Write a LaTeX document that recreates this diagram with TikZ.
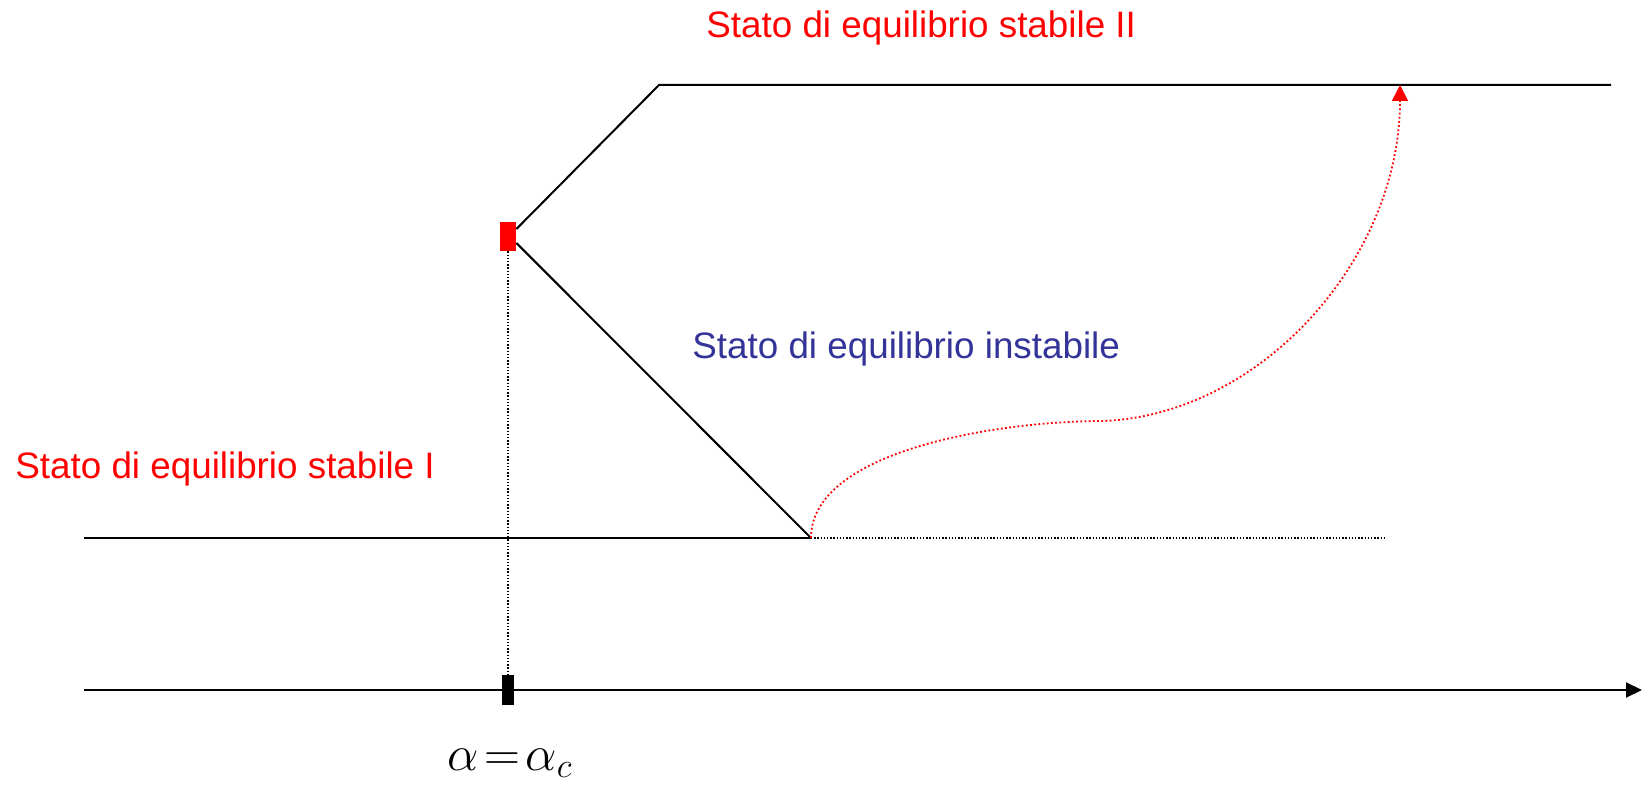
\documentclass[tikz,border=0pt]{standalone}
\usepackage{fontspec}
\setmainfont{Liberation Sans}
\usetikzlibrary{arrows.meta}
\definecolor{myblue}{RGB}{51,51,153}
\begin{document}
\begin{tikzpicture}[x=0.5pt,y=-0.5pt,
  solidline/.style={line width=1pt,black},
  dotline/.style={line width=0.7pt,black,dash pattern=on 0.7pt off 0.9pt},
  reddots/.style={line width=0.9pt,red,dash pattern=on 0.9pt off 1.2pt},
  lbl/.style={anchor=base west,inner sep=0pt,font=\fontsize{18.4}{22}\selectfont},
  marker/.style={rectangle,inner sep=0pt,draw=none}]
\useasboundingbox (0,0) rectangle (1648,786);
% nodes
\node[marker,fill=red,minimum width=8pt,minimum height=14.5pt] (bif) at (508,236.5) {};
\node[marker,fill=black,minimum width=6pt,minimum height=15pt] (mark) at (508,690) {};
\coordinate (tl) at (659,85);
\coordinate (tr) at (1611,85);
\coordinate (j) at (811,538);
\coordinate (ll) at (84,538);
\coordinate (ld) at (1385,538);
\coordinate (ax0) at (84,690);
\coordinate (ax1) at (1642,690);
\coordinate (mid) at (1103,421);
\coordinate (tip) at (1400,85);
% branches
\draw[solidline] ([yshift=3.75pt]bif.east) -- (tl) -- (tr);
\draw[solidline] ([yshift=-3.25pt]bif.east) -- (j);
\draw[solidline] (ll) -- (j);
\draw[dotline] (j) -- (ld);
\draw[dotline] (bif.south) -- (mark.north);
% axis
\draw[solidline,-{Triangle[length=8pt,width=7.5pt]}] (ax0) -- (ax1);
% red curve
\draw[reddots,-{Triangle[length=8pt,width=8pt,fill=red]}] (j) .. controls (811,450) and (1000,421) .. (mid)
   .. controls (1260,415) and (1400,260) .. (tip);
% labels
\node[lbl,red] (s2) at (706,38) {Stato di equilibrio stabile II};
\node[lbl,myblue] (ins) at (692,358) {Stato di equilibrio instabile};
\node[lbl,red] (s1) at (15,478) {Stato di equilibrio stabile I};
\node[anchor=base,inner sep=0pt,font=\fontsize{24}{28}\selectfont] (ac) at (510,770) {$\alpha\!=\!\alpha_c$};
\end{tikzpicture}
\end{document}
